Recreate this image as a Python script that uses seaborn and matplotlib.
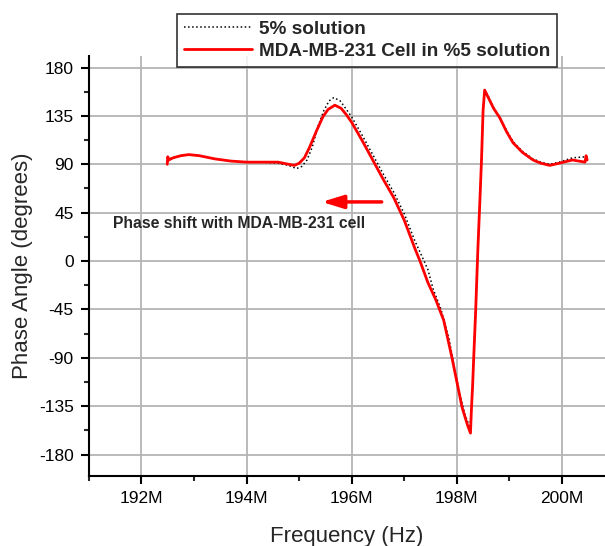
# Phase angle vs frequency: 5% solution vs MDA-MB-231 cell
import numpy as np
import pandas as pd
import matplotlib
matplotlib.use("Agg")
import matplotlib.pyplot as plt
from matplotlib.ticker import MultipleLocator, FuncFormatter
import seaborn as sns

# frequency in MHz, phase in degrees
cell_freq = [192.49, 192.50, 192.52, 192.6, 192.75, 192.9, 193.1, 193.4, 193.7, 194.0,
             194.3, 194.6, 194.8, 194.91, 195.0, 195.1, 195.2, 195.33, 195.45, 195.55,
             195.68, 195.8, 195.9, 196.0, 196.2, 196.4, 196.6, 196.8, 197.0, 197.2,
             197.3, 197.45, 197.6, 197.75, 197.9, 198.0, 198.1, 198.2, 198.26, 198.28,
             198.30, 198.32, 198.36, 198.40, 198.44, 198.47, 198.50, 198.53, 198.6, 198.7,
             198.82, 198.95, 199.07, 199.25, 199.45, 199.6, 199.77, 199.95, 200.2, 200.44,
             200.46, 200.48]
cell_phase = [90, 97, 94, 96, 98, 99, 98, 95, 93, 92,
              92, 92, 90, 89, 91, 96, 106, 121, 134, 141,
              145, 142, 136, 129, 112, 94, 76, 59, 38, 12,
              0, -20, -36, -55, -88, -112, -136, -152, -160, -136,
              -117, -92, -45, 10, 57, 94, 140, 159, 152, 142,
              133, 120, 110, 101, 94, 91, 89, 91, 94, 92,
              98, 94]

sol_freq = [192.50, 192.52, 192.6, 192.75, 192.9, 193.1, 193.4, 193.7, 194.0,
            194.3, 194.6, 194.8, 194.95, 195.05, 195.15, 195.25, 195.35, 195.47, 195.57,
            195.66, 195.78, 195.9, 196.0, 196.2, 196.4, 196.6, 196.8, 197.0, 197.2,
            197.35, 197.45, 197.55, 197.7, 197.85, 197.95, 198.05, 198.15, 198.25, 198.28,
            198.30, 198.32, 198.36, 198.40, 198.44, 198.47, 198.50, 198.53, 198.6, 198.7,
            198.82, 198.95, 199.07, 199.25, 199.45, 199.6, 199.77, 199.95, 200.2, 200.46,
            200.48]
sol_phase = [92, 95, 96, 98, 99, 98, 95, 93, 92,
             92, 91, 89, 86, 88, 94, 106, 124, 140, 149,
             152, 149, 141, 134, 117, 99, 81, 64, 44, 19,
             3, -8, -26, -45, -72, -98, -122, -142, -155, -136,
             -117, -92, -45, 10, 57, 94, 140, 159, 153, 143,
             134, 121, 111, 102, 95, 92, 90, 92, 96, 97,
             95]

x_ticks = [192, 194, 196, 198, 200]
y_ticks = [-180, -135, -90, -45, 0, 45, 90, 135, 180]

sol = pd.DataFrame({"freq": np.array(sol_freq) * 1e6, "phase": sol_phase})
cell = pd.DataFrame({"freq": np.array(cell_freq) * 1e6, "phase": cell_phase})

sns.set_style("white")
plt.rcParams["font.family"] = ["Liberation Sans", "DejaVu Sans"]
plt.rcParams["axes.unicode_minus"] = False

fig = plt.figure(figsize=(6.05, 5.46), dpi=100)
ax = fig.add_axes([0.147, 0.128, 0.853, 0.77])

sns.lineplot(data=sol, x="freq", y="phase", ax=ax, color="black", linestyle=":",
             linewidth=1.1, sort=False, estimator=None, label="5% solution")
sns.lineplot(data=cell, x="freq", y="phase", ax=ax, color="#ff0000",
             linewidth=2, sort=False, estimator=None,
             label="MDA-MB-231 Cell in %5 solution")

ax.set_xlim(191e6, 200.82e6)
ax.set_ylim(-200, 191)
ax.set_xticks([v * 1e6 for v in x_ticks])
ax.xaxis.set_major_formatter(FuncFormatter(lambda v, p: "%dM" % round(v / 1e6)))
ax.xaxis.set_minor_locator(MultipleLocator(1e6))
ax.set_yticks(y_ticks)
ax.yaxis.set_minor_locator(MultipleLocator(22.5))

ax.grid(True, which="major", color="#b4b4b4", linewidth=1.3)
ax.set_axisbelow(True)
for s in ["top", "right"]:
    ax.spines[s].set_visible(False)
for s in ["left", "bottom"]:
    ax.spines[s].set_color("black")
    ax.spines[s].set_linewidth(1.5)
ax.tick_params(which="major", direction="out", length=6, width=1.5, labelsize=12.5,
               left=True, bottom=True, colors="black", pad=5)
ax.tick_params(which="minor", direction="out", length=3.5, width=1.5,
               left=True, bottom=True)

ax.set_xlabel("Frequency (Hz)", fontsize=16, labelpad=14)
ax.set_ylabel("Phase Angle (degrees)", fontsize=16, labelpad=4)

# shift arrow and note
ax.annotate("", xy=(195.43e6, 55), xytext=(196.57e6, 55),
            arrowprops=dict(arrowstyle="-|>,head_length=1.3,head_width=0.4",
                            color="#ff0000", linewidth=2.5, shrinkA=0, shrinkB=0))
ax.text(191.45e6, 34.5, "Phase shift with MDA-MB-231 cell", fontsize=11.3,
        fontweight="bold", va="center", ha="left")

leg = ax.legend(loc="upper left", bbox_to_anchor=(177 / 605, 1 - 14 / 546),
                bbox_transform=fig.transFigure, frameon=True, fancybox=False,
                edgecolor="black", prop={"weight": "bold", "size": 13.7},
                handlelength=3.6, borderpad=0.35, labelspacing=0.25,
                handletextpad=0.35, borderaxespad=0)
leg.get_frame().set_linewidth(1.2)

fig.savefig("out.png", dpi=100)
